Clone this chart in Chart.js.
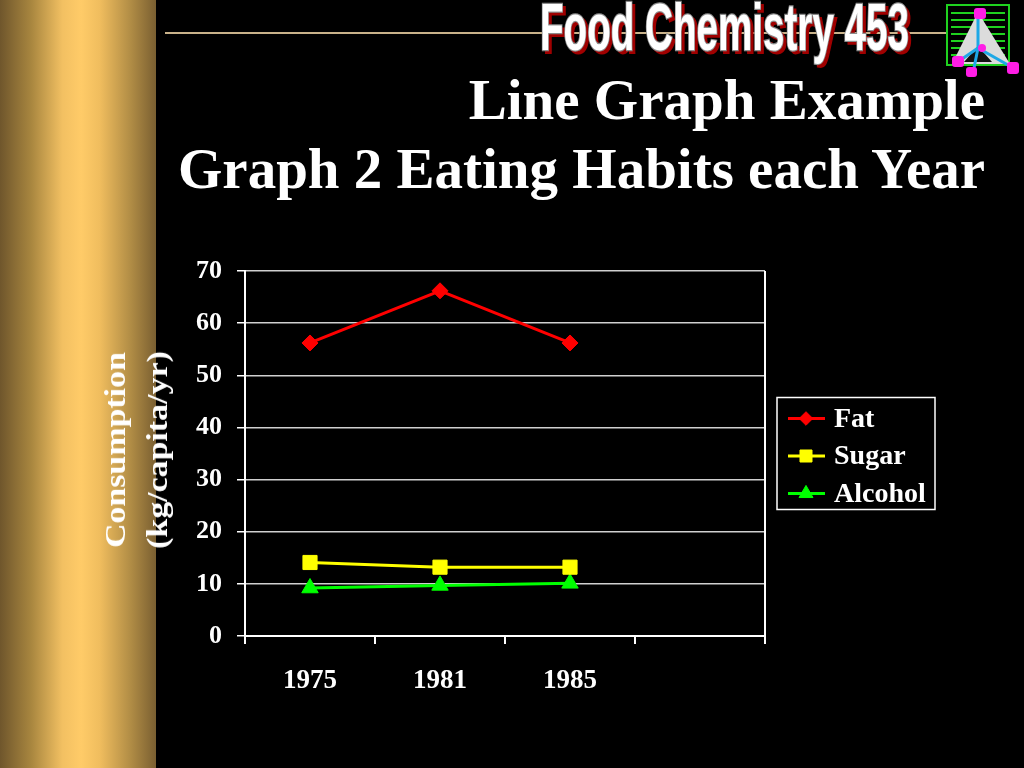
<!DOCTYPE html>
<html><head><meta charset="utf-8">
<script src="https://cdn.jsdelivr.net/npm/chart.js@4/dist/chart.umd.min.js"></script>
<style>
html,body{margin:0;padding:0;background:#000;width:1024px;height:768px;overflow:hidden}
#band{position:absolute;left:0;top:0;width:156px;height:768px;
 background:linear-gradient(to right,#6f562c 0%,#a8863f 20%,#f2c062 40%,#ffcb68 52%,#f0bd5e 64%,#b08c45 84%,#7a5f31 100%)}
#c{position:absolute;left:0;top:0}
.t{position:absolute;right:39px;font:bold 57px "Liberation Serif","Times New Roman",serif;color:#fff;line-height:57px;white-space:nowrap}
#ytitle{position:absolute;left:136px;top:450px;transform:translate(-50%,-50%) rotate(-90deg) scaleX(1.13);
 font:bold 30px "Liberation Serif","Times New Roman",serif;color:#fff;line-height:42px;text-align:center;white-space:nowrap}
#logo{position:absolute;left:0;top:0}
</style>
</head><body>
<div id="band"></div>
<canvas id="c" width="1024" height="768"></canvas>
<svg id="logo" width="1024" height="80">
 <line x1="165" y1="33" x2="946" y2="33" stroke="#c9b28a" stroke-width="2"/>
 <text x="543" y="53" textLength="369" lengthAdjust="spacingAndGlyphs" font-family="Liberation Sans Narrow, Liberation Sans, Arial, sans-serif" font-weight="bold" font-size="66" fill="#a00000" stroke="#a00000" stroke-width="2">Food Chemistry 453</text>
 <text x="540" y="50" textLength="369" lengthAdjust="spacingAndGlyphs" font-family="Liberation Sans Narrow, Liberation Sans, Arial, sans-serif" font-weight="bold" font-size="66" fill="#ffffff" stroke="#8c8c8c" stroke-width="2.5" paint-order="stroke">Food Chemistry 453</text>
 <rect x="947" y="5" width="62" height="60" fill="#000" stroke="#1fd21f" stroke-width="2"/>
 <g stroke="#1fd21f" stroke-width="2">
  <line x1="951" y1="13" x2="1005" y2="13"/><line x1="951" y1="20" x2="1005" y2="20"/>
  <line x1="951" y1="27" x2="1005" y2="27"/><line x1="951" y1="34" x2="1005" y2="34"/>
  <line x1="951" y1="41" x2="1005" y2="41"/><line x1="951" y1="48" x2="1005" y2="48"/>
  <line x1="951" y1="55" x2="1005" y2="55"/>
 </g>
 <polygon points="978,12 952,64 1010,64" fill="#dcdcdc"/>
 <polygon points="978,46 964,62 992,62" fill="#111"/>
 <g stroke="#1ea8e6" stroke-width="3">
  <line x1="978" y1="18" x2="978" y2="48"/><line x1="978" y1="48" x2="962" y2="59"/>
  <line x1="978" y1="48" x2="974" y2="68"/><line x1="978" y1="48" x2="1008" y2="65"/>
 </g>
 <g fill="#ff1ee6">
  <rect x="974" y="8" width="12" height="11" rx="3"/><rect x="952" y="56" width="12" height="11" rx="3"/>
  <rect x="966" y="67" width="11" height="10" rx="3"/><rect x="1007" y="62" width="12" height="12" rx="3"/>
  <circle cx="982" cy="48" r="4"/>
 </g>
</svg>
<div class="t" style="top:71px">Line Graph Example</div>
<div class="t" style="top:140px">Graph 2 Eating Habits each Year</div>
<div id="ytitle">Consumption<br>(kg/capita/yr)</div>
<script>
const categories = ['1975', '1981', '1985', ''];
const fatValues = [56.2, 66.2, 56.2, null];
const sugarValues = [14.1, 13.2, 13.2, null];
const alcoholValues = [9.2, 9.7, 10.1, null];
const yTickValues = [0, 10, 20, 30, 40, 50, 60, 70];
const seriesNames = ['Fat', 'Sugar', 'Alcohol'];

const FONT = '"Liberation Serif", "Times New Roman", serif';

function marker(ctx, style, r, x, y) {
  if (Chart.helpers && Chart.helpers.drawPoint) {
    Chart.helpers.drawPoint(ctx, {pointStyle: style, radius: r, borderWidth: 1, rotation: 0}, x, y);
    return;
  }
  ctx.beginPath();
  if (style === 'rectRot') { ctx.moveTo(x, y - r); ctx.lineTo(x + r, y); ctx.lineTo(x, y + r); ctx.lineTo(x - r, y); }
  else if (style === 'rect') { const s = r * Math.SQRT1_2; ctx.rect(x - s, y - s, 2 * s, 2 * s); }
  else { for (let k = 0; k < 3; k++) { const a = k * 2 * Math.PI / 3; ctx.lineTo(x + Math.sin(a) * r, y - Math.cos(a) * r); } }
  ctx.closePath(); ctx.fill(); ctx.stroke();
}

const framePlugin = {
  id: 'frame',
  afterDraw(chart) {
    const {ctx, chartArea: a} = chart;
    ctx.save();
    ctx.strokeStyle = '#ffffff';
    ctx.lineWidth = 2;
    ctx.beginPath(); ctx.moveTo(a.right, a.top); ctx.lineTo(a.right, a.bottom); ctx.stroke();
    // legend
    const lw = 158, lh = 112;
    const lx = a.right + 12;
    const ly = (a.top + a.bottom) / 2 - lh / 2;
    ctx.lineWidth = 1.5;
    ctx.strokeRect(lx, ly, lw, lh);
    chart.data.datasets.forEach((ds, i) => {
      const cy = ly + 21 + i * 37.5;
      ctx.strokeStyle = ds.borderColor;
      ctx.fillStyle = ds.backgroundColor;
      ctx.lineWidth = 3;
      ctx.beginPath(); ctx.moveTo(lx + 11, cy); ctx.lineTo(lx + 48, cy); ctx.stroke();
      ctx.lineWidth = 1;
      marker(ctx, ds.pointStyle, ds.pointRadius * 0.85, lx + 29, cy);
      ctx.fillStyle = '#ffffff';
      ctx.font = 'bold 28px ' + FONT;
      ctx.textBaseline = 'middle';
      ctx.textAlign = 'left';
      ctx.fillText(ds.label, lx + 57, cy + 1);
    });
    ctx.restore();
  }
};

new Chart(document.getElementById('c'), {
  type: 'line',
  data: {
    labels: categories,
    datasets: [
      {label: seriesNames[0], data: fatValues, borderColor: '#ff0000', backgroundColor: '#ff0000',
       borderWidth: 3, pointStyle: 'rectRot', pointRadius: 8, pointBorderWidth: 1, tension: 0},
      {label: seriesNames[1], data: sugarValues, borderColor: '#ffff00', backgroundColor: '#ffff00',
       borderWidth: 3, pointStyle: 'rect', pointRadius: 10, pointBorderWidth: 1, tension: 0},
      {label: seriesNames[2], data: alcoholValues, borderColor: '#00ff00', backgroundColor: '#00ff00',
       borderWidth: 3, pointStyle: 'triangle', pointRadius: 9.5, pointBorderWidth: 1, tension: 0}
    ]
  },
  options: {
    responsive: false,
    animation: false,
    layout: {padding: {left: 185, top: 271, right: 259, bottom: 72}},
    plugins: {legend: {display: false}, tooltip: {enabled: false}, title: {display: false}},
    scales: {
      x: {
        type: 'category',
        offset: true,
        grid: {offset: true, drawOnChartArea: false, drawTicks: true, tickLength: 8, color: '#ffffff', tickColor: '#ffffff', lineWidth: 2},
        border: {display: true, color: '#ffffff', width: 2},
        ticks: {color: '#ffffff', font: {family: FONT, weight: 'bold', size: 27}, padding: 21, maxRotation: 0, autoSkip: false},
        afterFit(s) { s.height = 60; }
      },
      y: {
        min: 0, max: 70,
        afterBuildTicks(s) { s.ticks = yTickValues.map(v => ({value: v})); },
        grid: {color: '#d0d0d0', lineWidth: 1.5, drawTicks: true, tickLength: 8, tickColor: '#ffffff'},
        border: {display: true, color: '#ffffff', width: 2},
        ticks: {color: '#ffffff', font: {family: FONT, weight: 'bold', size: 26}, padding: 15},
        afterFit(s) { s.width = 60; }
      }
    }
  },
  plugins: [framePlugin]
});
</script>
</body></html>
